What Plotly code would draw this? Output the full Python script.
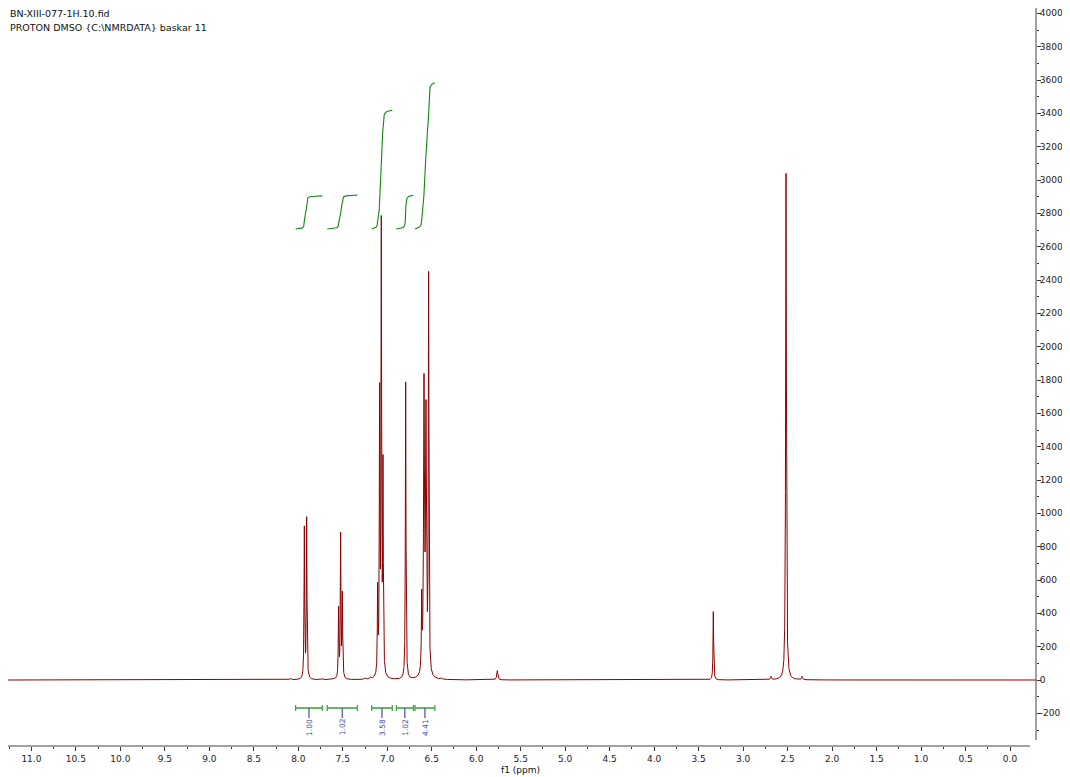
import numpy as np
import plotly.graph_objects as go

# ---------------- data ----------------
TITLE_LINES = ["BN-XIII-077-1H.10.fid", "PROTON DMSO {C:\\NMRDATA} baskar 11"]

# peak list: position (ppm), amplitude, half width (ppm)
PEAK_PPM = [7.932, 7.906,
            7.547, 7.524, 7.505,
            7.108, 7.086, 7.067, 7.048,
            6.793,
            6.613, 6.587, 6.565, 6.535,
            5.763, 3.335, 2.687, 2.518, 2.338,
            8.09, 7.73, 7.607, 7.25, 7.19, 6.39]
PEAK_AMP = [902, 959,
            413, 854, 492,
            501, 1641, 2660, 1218,
            1784,
            428, 1709, 1519, 2369,
            56, 410, 20, 3040, 20,
            10, 6, 6, 8, 10, 6]
PEAK_HW = [0.004, 0.004,
           0.004, 0.004, 0.004,
           0.004, 0.004, 0.004, 0.004,
           0.004,
           0.004, 0.006, 0.006, 0.004,
           0.007, 0.004, 0.006, 0.005, 0.006,
           0.01, 0.01, 0.01, 0.01, 0.01, 0.01]

# integral regions (ppm from, ppm to) and their labels
INT_FROM = [8.03, 7.675, 7.175, 6.898, 6.688]
INT_TO = [7.73, 7.337, 6.944, 6.707, 6.465]
INT_LABELS = ["1.00", "1.02", "3.58", "1.02", "4.41"]
INT_VALUES = [1.00, 1.02, 3.58, 1.02, 4.41]

X_TICKS = [11.0, 10.5, 10.0, 9.5, 9.0, 8.5, 8.0, 7.5, 7.0, 6.5, 6.0, 5.5, 5.0,
           4.5, 4.0, 3.5, 3.0, 2.5, 2.0, 1.5, 1.0, 0.5, 0.0]
X_TICK_TEXT = ["11.0", "10.5", "10.0", "9.5", "9.0", "8.5", "8.0", "7.5", "7.0",
               "6.5", "6.0", "5.5", "5.0", "4.5", "4.0", "3.5", "3.0", "2.5",
               "2.0", "1.5", "1.0", "0.5", "0.0"]
X_MINOR = [11.25, 10.75, 10.25, 9.75, 9.25, 8.75, 8.25, 7.75, 7.25, 6.75, 6.25,
           5.75, 5.25, 4.75, 4.25, 3.75, 3.25, 2.75, 2.25, 1.75, 1.25, 0.75, 0.25]
Y_TICKS = [4000, 3800, 3600, 3400, 3200, 3000, 2800, 2600, 2400, 2200, 2000,
           1800, 1600, 1400, 1200, 1000, 800, 600, 400, 200, 0, -200]
Y_TICK_TEXT = ["4000", "3800", "3600", "3400", "3200", "3000", "2800", "2600",
               "2400", "2200", "2000", "1800", "1600", "1400", "1200", "1000",
               "800", "600", "400", "200", "0", "-200"]
Y_MINOR = [3900, 3700, 3500, 3300, 3100, 2900, 2700, 2500, 2300, 2100, 1900,
           1700, 1500, 1300, 1100, 900, 700, 500, 300, 100, -100, -300]

# ---------------- build spectrum ----------------
X_MIN, X_MAX = -0.292, 11.263
grid = np.arange(X_MIN, X_MAX, 0.0005)
ppm = np.unique(np.concatenate([grid, np.array(PEAK_PPM)]))[::-1]
spec = np.zeros_like(ppm)
for c, a, w in zip(PEAK_PPM, PEAK_AMP, PEAK_HW):
    spec += a / (1.0 + ((ppm - c) / w) ** 2)

SPEC_COLOR = "#8b0000"
INT_COLOR = "#118811"
BAR_COLOR = "#33a033"
LBL_COLOR = "#4a4aa8"
INT_BASE = 2706
INT_UNIT = 199
BAR_Y = -168

fig = go.Figure()
fig.add_trace(go.Scatter(x=ppm, y=spec, mode="lines",
                         line=dict(color=SPEC_COLOR, width=1), hoverinfo="skip"))

# integral curves
for f, t, v in zip(INT_FROM, INT_TO, INT_VALUES):
    m = (ppm <= f) & (ppm >= t)
    xs = ppm[m]
    cs = np.cumsum(spec[m])
    cs = cs / cs[-1] * v * INT_UNIT + INT_BASE
    fig.add_trace(go.Scatter(x=xs, y=cs, mode="lines",
                             line=dict(color=INT_COLOR, width=1.1), hoverinfo="skip"))

# integration bars, caps, label ticks
for f, t, lab in zip(INT_FROM, INT_TO, INT_LABELS):
    fig.add_trace(go.Scatter(x=[f, t], y=[BAR_Y, BAR_Y], mode="lines",
                             line=dict(color=BAR_COLOR, width=1.5), hoverinfo="skip"))
    for e in (f, t):
        fig.add_trace(go.Scatter(x=[e, e], y=[BAR_Y - 18, BAR_Y + 18], mode="lines",
                                 line=dict(color=BAR_COLOR, width=1.2), hoverinfo="skip"))
    cx = (f + t) / 2
    fig.add_trace(go.Scatter(x=[cx, cx], y=[BAR_Y, BAR_Y - 60], mode="lines",
                             line=dict(color=LBL_COLOR, width=1.2), hoverinfo="skip"))
    fig.add_annotation(x=cx, y=BAR_Y - 114, text=lab, textangle=-90, showarrow=False,
                       font=dict(family="DejaVu Sans", size=7.5, color=LBL_COLOR),
                       xanchor="center", yanchor="middle")

# title lines
fig.add_annotation(x=0, y=1.0, xref="paper", yref="paper", text=TITLE_LINES[0],
                   showarrow=False, xanchor="left", yanchor="middle", yshift=-5,
                   font=dict(family="DejaVu Sans", size=9.5, color="#111"))
fig.add_annotation(x=0, y=1.0, xref="paper", yref="paper", text=TITLE_LINES[1],
                   showarrow=False, xanchor="left", yanchor="middle", yshift=-19,
                   font=dict(family="DejaVu Sans", size=9.5, color="#111"))
# axis title
fig.add_annotation(x=5.497, y=0, xref="x", yref="paper", text="f1 (ppm)",
                   showarrow=False, xanchor="center", yanchor="middle", yshift=-24,
                   font=dict(family="DejaVu Sans", size=9, color="#111"))

# axis lines
fig.add_shape(type="line", xref="paper", yref="paper", x0=0, x1=0.99416, y0=0, y1=0,
              line=dict(color="#444", width=1))
fig.add_shape(type="line", xref="paper", yref="y", x0=1, x1=1, y0=-360, y1=4032,
              line=dict(color="#444", width=1))

tick_font = dict(family="DejaVu Sans", size=9, color="#222")
# the page body has an 8 px margin, so the figure is 8 px smaller and margins start at 0
fig.update_layout(
    width=1062, height=769,
    margin=dict(l=0, r=34, t=0, b=31),
    paper_bgcolor="white", plot_bgcolor="white", showlegend=False,
    xaxis=dict(range=[X_MAX, X_MIN], tickvals=X_TICKS, ticktext=X_TICK_TEXT,
               ticks="outside", ticklen=4, tickcolor="#333", tickwidth=1,
               showgrid=False, zeroline=False, showline=False, tickfont=tick_font,
               minor=dict(tickvals=X_MINOR, ticks="outside", ticklen=2,
                          tickcolor="#333", showgrid=False)),
    yaxis=dict(side="right", range=[-396, 4032], tickvals=Y_TICKS, ticktext=Y_TICK_TEXT,
               ticks="outside", ticklen=4, tickcolor="#333", tickwidth=1,
               ticklabelstandoff=-3,
               showgrid=False, zeroline=False, showline=False, tickfont=tick_font,
               minor=dict(tickvals=Y_MINOR, ticks="outside", ticklen=2,
                          tickcolor="#333", showgrid=False)),
)

fig.write_html("out.html")
